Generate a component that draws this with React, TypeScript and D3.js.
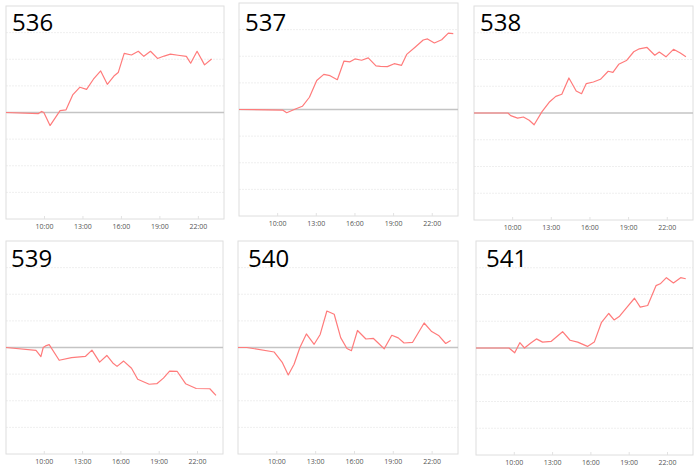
import * as d3 from "d3";

// panel names and series (time of day, value)
const names = ["536", "537", "538", "539", "540", "541"];

const times536 = ["7:00", "9:32", "9:47", "9:57", "10:26", "11:13", "11:41", "12:12", "12:46", "13:17", "13:49", "14:23", "14:54", "15:25", "15:45", "16:13", "16:47", "17:19", "17:45", "18:16", "18:49", "19:20", "19:49", "20:25", "21:04", "21:24", "21:54", "22:29", "23:02"];
const values536 = [0, -0.04, 0.04, 0, -0.49, 0.07, 0.1, 0.66, 0.95, 0.87, 1.25, 1.56, 1.06, 1.37, 1.5, 2.22, 2.16, 2.3, 2.11, 2.3, 2.03, 2.12, 2.19, 2.15, 2.11, 1.85, 2.3, 1.79, 2.01];

const times537 = ["7:00", "10:23", "10:42", "11:20", "11:55", "12:28", "13:02", "13:35", "14:04", "14:38", "15:09", "15:37", "16:00", "16:31", "17:02", "17:38", "17:59", "18:31", "19:03", "19:37", "20:01", "20:40", "21:18", "21:38", "22:10", "22:44", "23:15", "23:38"];
const values537 = [0, -0.02, -0.12, 0.01, 0.12, 0.46, 1.09, 1.32, 1.27, 1.12, 1.82, 1.79, 1.9, 1.85, 1.94, 1.64, 1.62, 1.61, 1.72, 1.66, 2.07, 2.34, 2.61, 2.65, 2.5, 2.62, 2.87, 2.85];

const times538 = ["7:00", "9:38", "9:51", "10:23", "10:50", "11:17", "11:40", "12:16", "12:50", "13:21", "13:49", "14:22", "14:56", "15:21", "15:43", "16:16", "16:49", "17:25", "17:47", "18:14", "18:50", "19:24", "19:50", "20:26", "21:02", "21:23", "21:54", "22:29", "23:01", "23:27"];
const values538 = [0, 0, -0.1, -0.19, -0.15, -0.27, -0.44, 0.04, 0.4, 0.62, 0.7, 1.31, 0.82, 0.72, 1.1, 1.16, 1.26, 1.56, 1.52, 1.82, 1.96, 2.29, 2.4, 2.45, 2.16, 2.28, 2.1, 2.38, 2.24, 2.1];

const times539 = ["7:00", "9:21", "9:44", "9:55", "10:06", "10:23", "11:10", "12:08", "13:14", "13:44", "14:20", "14:54", "15:22", "15:42", "16:13", "16:50", "17:19", "18:13", "18:49", "19:20", "19:49", "20:25", "21:04", "21:54", "22:58", "23:27"];
const values539 = [0, -0.11, -0.34, 0, 0.06, 0.11, -0.48, -0.38, -0.33, -0.1, -0.55, -0.3, -0.58, -0.71, -0.51, -0.78, -1.19, -1.38, -1.36, -1.15, -0.89, -0.9, -1.36, -1.54, -1.55, -1.8];

const times540 = ["7:00", "7:41", "9:48", "10:26", "10:53", "11:20", "11:47", "12:17", "12:53", "13:21", "13:52", "14:26", "14:56", "15:25", "15:46", "16:14", "16:53", "17:28", "17:50", "18:18", "18:53", "19:23", "19:50", "20:29", "21:23", "21:58", "22:32", "23:03", "23:26"];
const values540 = [0, 0, -0.17, -0.57, -1.03, -0.63, 0, 0.51, 0.12, 0.49, 1.37, 1.25, 0.37, -0.04, -0.12, 0.64, 0.32, 0.34, 0.17, -0.05, 0.46, 0.36, 0.17, 0.19, 0.92, 0.6, 0.44, 0.15, 0.26];

const times541 = ["7:00", "9:35", "10:02", "10:26", "10:48", "11:16", "11:44", "12:13", "12:54", "13:47", "14:22", "14:58", "15:44", "16:16", "16:50", "17:24", "17:49", "18:15", "18:51", "19:25", "19:52", "20:27", "21:06", "21:26", "21:55", "22:28", "23:02", "23:26"];
const values541 = [0, 0, -0.18, 0.2, 0, 0.18, 0.34, 0.22, 0.25, 0.61, 0.29, 0.22, 0.06, 0.22, 0.96, 1.29, 1.05, 1.19, 1.54, 1.86, 1.53, 1.59, 2.33, 2.4, 2.63, 2.43, 2.63, 2.59];

const seriesTimes = [times536, times537, times538, times539, times540, times541];
const seriesValues = [values536, values537, values538, values539, values540, values541];

const hourTicks = [10, 13, 16, 19, 22];
const valueTicks = [-4, -3, -2, -1, 0, 1, 2, 3, 4];

// frame of each panel in the picture: [left, top, right, bottom, title offset]
const frames = [
  [6, 6, 224, 219, 6],
  [239, 3, 458, 216, 6],
  [474, 6, 693, 220, 6],
  [6, 241, 223, 454, 5],
  [238, 241, 458, 454, 10],
  [476, 241, 693, 455, 10],
];

function toHours(t: string) {
  const [h, m] = t.split(":").map(Number);
  return h + m / 60;
}

function Panel({ i }: { i: number }) {
  const [left, top, right, bottom, titleDx] = frames[i];
  const x = d3.scaleLinear().domain([7, 24]).range([left, right]);
  const y = d3.scaleLinear().domain([-4, 4]).range([bottom, top]);
  const pts = seriesTimes[i].map((t, k) => [toHours(t), seriesValues[i][k]] as [number, number]);
  const line = d3
    .line<[number, number]>()
    .x((d) => x(d[0]))
    .y((d) => y(d[1]));
  const titleY = i < 3 ? 31 : 267;

  return (
    <g>
      {valueTicks
        .filter((v) => v !== 0 && v !== 4 && v !== -4)
        .map((v) => (
          <line
            key={v}
            x1={left}
            x2={right}
            y1={y(v)}
            y2={y(v)}
            stroke="#efefef"
            strokeDasharray="2,1"
          />
        ))}
      <rect
        x={left}
        y={top}
        width={right - left}
        height={bottom - top}
        fill="none"
        stroke="#dedede"
      />
      {hourTicks.map((h) => (
        <g key={h}>
          <line x1={x(h)} x2={x(h)} y1={bottom - 3} y2={bottom} stroke="#e2e2e2" />
          <text
            x={x(h)}
            y={bottom + 10}
            textAnchor="middle"
            fontSize={7}
            fill="#555"
            fontFamily="'Open Sans', sans-serif"
          >
            {d3.format("02")(h)}:00
          </text>
        </g>
      ))}
      <line x1={left} x2={right} y1={y(0)} y2={y(0)} stroke="#c4c4c4" strokeWidth={1.3} />
      <path d={line(pts)!} fill="none" stroke="#ff7b7b" strokeWidth={1.2} strokeLinejoin="round" />
      <text
        x={left + titleDx}
        y={titleY}
        fontSize={24}
        fill="#000"
        fontFamily="'Open Sans', sans-serif"
      >
        {names[i]}
      </text>
    </g>
  );
}

export default function App() {
  return (
    <div style={{ position: "absolute", left: 0, top: 0 }}>
      <svg width={700} height={471} style={{ display: "block", background: "#fff" }}>
        {names.map((_, i) => (
          <Panel key={i} i={i} />
        ))}
      </svg>
    </div>
  );
}
